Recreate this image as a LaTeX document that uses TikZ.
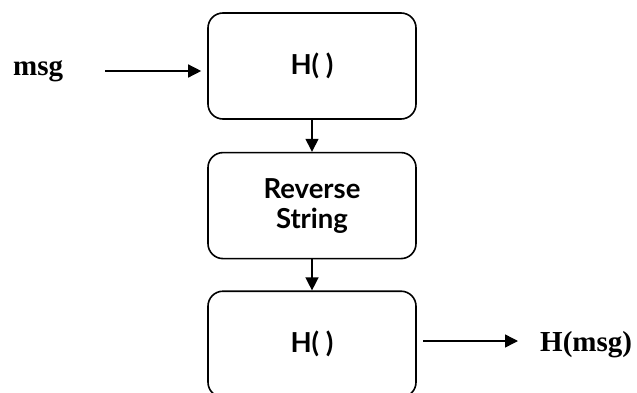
\documentclass[tikz,border=0pt]{standalone}
\usepackage{fontspec}
\setmainfont{Liberation Serif}
\newfontfamily\gothfont{Lato}
\usetikzlibrary{positioning,arrows.meta}

\begin{document}
\begin{tikzpicture}[x=1pt,y=1pt,>={Triangle[length=13pt,width=13pt]},node distance=32pt]
  \tikzstyle{hashbox}=[draw,line width=1.6pt,rounded corners=15pt,
    minimum width=208pt,minimum height=106pt,inner sep=0pt,align=center,
    font=\gothfont\bfseries\fontsize{27.5}{30}\selectfont]
  \tikzstyle{iolabel}=[inner sep=0pt,font=\bfseries\fontsize{29}{31}\selectfont]
  \tikzstyle{flow}=[->,line width=1.4pt]
  \useasboundingbox (0,0) rectangle (637,392);
  \node[hashbox] (h1) at (312,326) {H( )};
  \node[hashbox,below=of h1] (rev) {Reverse\\String};
  \node[hashbox,below=31pt of rev] (h2) {H( )};
  \node[iolabel,anchor=base west] (msg) at (13,317) {msg};
  \node[iolabel,anchor=base west] (hmsg) at (540,41) {H(msg)};
  \coordinate (msgtail) at (105,321);
  \coordinate (outtail) at (423,51);
  \draw[flow,shorten >=6pt] (msgtail) -- (msgtail -| h1.west);
  \draw[flow] (h1) -- (rev);
  \draw[flow] (rev) -- (h2);
  \draw[flow,shorten >=22pt] (outtail) -- (outtail -| hmsg.west);
\end{tikzpicture}
\end{document}
